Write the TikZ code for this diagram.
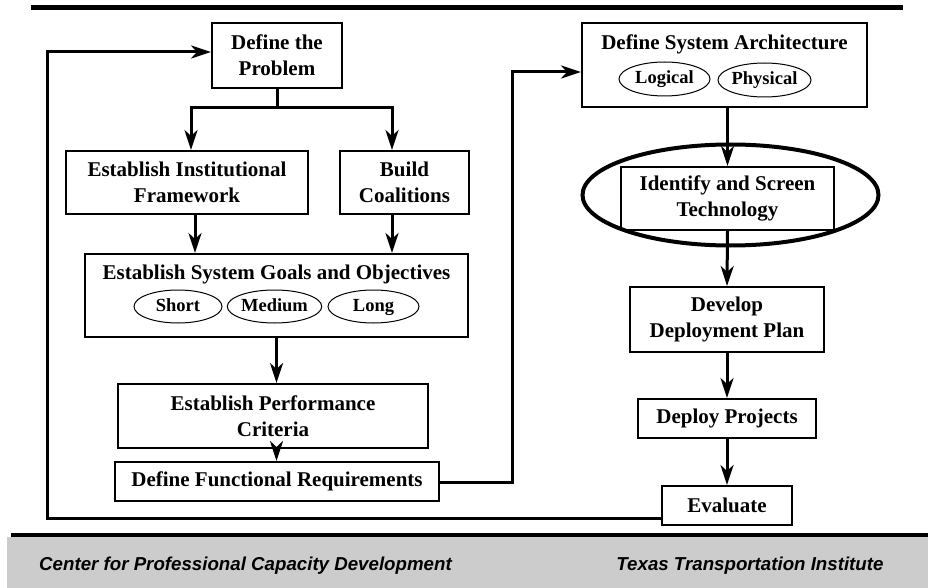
\documentclass[tikz,border=0pt]{standalone}
\usepackage{fontspec}
\setmainfont{Liberation Serif}
\newfontfamily\footfont{Liberation Sans}
\usetikzlibrary{arrows.meta,shapes.geometric}
\definecolor{footgray}{HTML}{CCCCCC}
\tikzset{
  box/.style={draw,line width=2pt,fill=white,inner sep=0pt,align=center,
    font=\fontsize{21}{26}\selectfont\bfseries},
  tag/.style={draw,ellipse,line width=1pt,inner sep=0pt,text height=13pt,text depth=4pt,
    font=\fontsize{18.5}{22}\selectfont\bfseries},
  title/.style={inner sep=0pt,font=\fontsize{21}{26}\selectfont\bfseries},
  conn/.style={line width=3pt},
  arr/.style={conn,-{Stealth[length=20pt,width=13pt,inset=6pt]}},
  foot/.style={inner sep=0pt,font=\footfont\fontsize{18.7}{22}\selectfont\bfseries\itshape}
}
\begin{document}
\begin{tikzpicture}[x=1pt,y=-1pt]
\useasboundingbox (0,0) rectangle (928,588);
% frame bars and footer
\fill[footgray] (7,537) rectangle (928,588);
\draw[line width=5pt] (31,7.5) -- (903,7.5);
\draw[line width=3.5pt] (11,535) -- (928,535);
\node[foot] (fl) at (245.5,566) {Center for Professional Capacity Development};
\node[foot] (fr) at (750,566) {Texas Transportation Institute};

% left column
\node[box,minimum width=130,minimum height=65] (prob) at (277,55.5) {Define the\\Problem};
\node[box,minimum width=242,minimum height=63] (inst) at (187,182.5) {Establish Institutional\\Framework};
\node[box,minimum width=129,minimum height=63] (coal) at (404.5,182.5) {Build\\Coalitions};
\node[box,minimum width=383,minimum height=83] (goals) at (276.5,295.5) {};
\node[title] (goalt) at (276.5,274.5) {Establish System Goals and Objectives};
\node[tag,minimum width=88,minimum height=33] (short) at (178,306.5) {Short};
\node[tag,minimum width=87,minimum height=33] (medium) at (274.5,306.5) {Medium};
\node[tag,minimum width=91,minimum height=33] (long) at (373.5,306.5) {Long};
\node[box,minimum width=310,minimum height=64] (perf) at (273,416) {Establish Performance\\Criteria};
\node[box,minimum width=324,minimum height=39] (func) at (277,481.5) {Define Functional Requirements};

% right column
\node[box,minimum width=285,minimum height=84] (arch) at (724.5,65) {};
\node[title] (archt) at (724.5,44) {Define System Architecture};
\node[tag,minimum width=91,minimum height=34] (logical) at (664.5,79) {Logical};
\node[tag,minimum width=91,minimum height=34] (physical) at (764.5,80) {Physical};
\node[box,minimum width=213,minimum height=63] (tech) at (727.5,198.5) {Identify and Screen\\Technology};
\node[draw,ellipse,line width=4pt,minimum width=296,minimum height=101,inner sep=0pt] (focus) at (730.5,195) {};
\node[box,minimum width=194,minimum height=65] (plan) at (727,319.5) {Develop\\Deployment Plan};
\node[box,minimum width=178,minimum height=39] (proj) at (727,418.5) {Deploy Projects};
\node[box,minimum width=130,minimum height=39] (eval) at (727,505.5) {Evaluate};

% helper coordinates
\coordinate (split) at (277,108);
\coordinate (bl) at (191,108);
\coordinate (br) at (392,108);
\coordinate (fbA) at (47,518);
\coordinate (fbB) at (47,52);
\coordinate (upA) at (512,482);
\coordinate (upB) at (512,72);

% connectors
\draw[conn] (prob.south) -- (split);
\draw[conn] ([xshift=-1.5pt]bl) -- ([xshift=1.5pt]br);
\draw[arr] (bl) -- (bl |- inst.north);
\draw[arr] (br) -- (br |- coal.north);
\draw[arr] ([xshift=8pt]inst.south) -- ([xshift=8pt]inst.south |- goals.north);
\draw[arr] (br |- coal.south) -- (br |- goals.north);
\draw[arr] (goals.south) -- (goals.south |- perf.north);
\draw[arr] (goals.south |- perf.south) -- (goals.south |- func.north);
\draw[arr] (func.east |- upA) -- (upA) -- (upB) -- (arch.west |- upB);
\draw[arr] (tech.north |- arch.south) -- (tech.north);
\draw[arr] (tech.south) -- (plan.north);
\draw[arr] (plan.south) -- (proj.north);
\draw[arr] (proj.south) -- (eval.north);
\draw[arr] (eval.west |- fbA) -- (fbA) -- (fbB) -- (prob.west |- fbB);
\end{tikzpicture}
\end{document}
